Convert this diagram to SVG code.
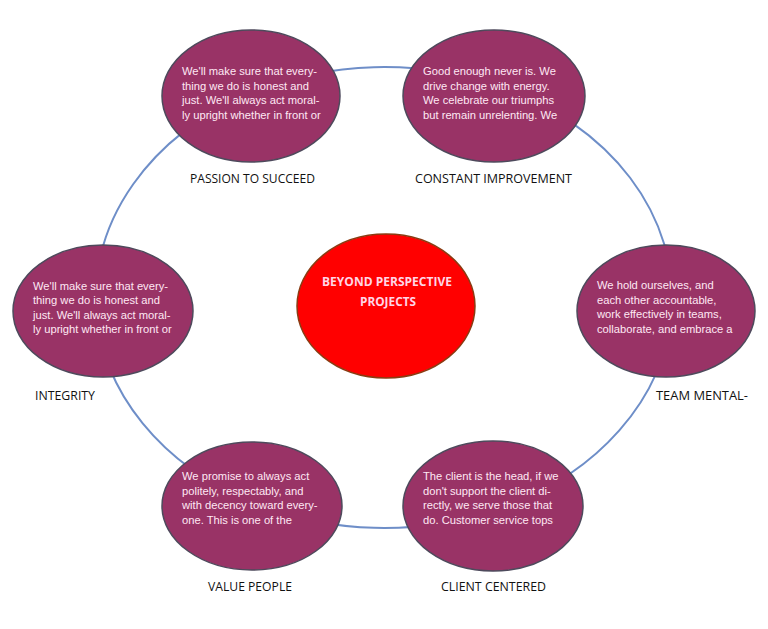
<svg xmlns="http://www.w3.org/2000/svg" width="768" height="629" viewBox="0 0 768 629">
<style>
.conn{fill:none;stroke:#6e8ec8;stroke-width:2}
.node{fill:#993366;stroke:#4e4a5c;stroke-width:1.5}
.core{fill:#ff0000;stroke:#8a3b12;stroke-width:1.5}
.body{font-family:"Liberation Sans",Arial,sans-serif;font-size:11.2px;fill:#ffe8f4}
.lbl{font-family:"Open Sans","Noto Sans",sans-serif;font-size:13.5px;fill:#111}
.ctr{font-family:"Open Sans","Noto Sans",sans-serif;font-size:12px;font-weight:bold;fill:#ffd6e6}
</style>
<rect width="768" height="629" fill="#ffffff"/>
<g id="connectors">
<path class="conn" d="M248.8 94 A288 230.5 0 0 1 501.1 86.9"/>
<path class="conn" d="M501.1 86.9 A288 230.5 0 0 1 671.5 311.2"/>
<path class="conn" d="M671.5 311.2 A288 230.5 0 0 1 496.5 509.7"/>
<path class="conn" d="M496.5 509.7 A288 230.5 0 0 1 253.3 502.9"/>
<path class="conn" d="M253.3 502.9 A288 230.5 0 0 1 96.4 309.6"/>
<path class="conn" d="M96.4 309.6 A288 230.5 0 0 1 248.8 94"/>
</g>
<g id="passion">
<ellipse class="node" cx="251" cy="96" rx="89" ry="66"/>
<text class="body"><tspan x="182" y="75">We'll make sure that every-</tspan><tspan x="182" y="89.5">thing we do is honest and</tspan><tspan x="182" y="104">just. We'll always act moral-</tspan><tspan x="182" y="118.5">ly upright whether in front or</tspan></text>
<text class="lbl" x="252.5" y="183" text-anchor="middle" textLength="125" lengthAdjust="spacingAndGlyphs">PASSION TO SUCCEED</text>
</g>
<g id="constant">
<ellipse class="node" cx="494" cy="96" rx="91" ry="66"/>
<text class="body"><tspan x="423" y="75">Good enough never is. We</tspan><tspan x="423" y="89.5">drive change with energy.</tspan><tspan x="423" y="104">We celebrate our triumphs</tspan><tspan x="423" y="118.5">but remain unrelenting. We</tspan></text>
<text class="lbl" x="493.5" y="183" text-anchor="middle" textLength="157" lengthAdjust="spacingAndGlyphs">CONSTANT IMPROVEMENT</text>
</g>
<g id="team">
<ellipse class="node" cx="666" cy="311" rx="89" ry="66"/>
<text class="body"><tspan x="597" y="289">We hold ourselves, and</tspan><tspan x="597" y="303.5">each other accountable,</tspan><tspan x="597" y="318">work effectively in teams,</tspan><tspan x="597" y="332.5">collaborate, and embrace a</tspan></text>
<text class="lbl" x="702" y="400" text-anchor="middle" textLength="92" lengthAdjust="spacingAndGlyphs">TEAM MENTAL-</text>
</g>
<g id="integrity">
<ellipse class="node" cx="103" cy="311" rx="90" ry="66"/>
<text class="body"><tspan x="33" y="289.5">We'll make sure that every-</tspan><tspan x="33" y="304">thing we do is honest and</tspan><tspan x="33" y="318.5">just. We'll always act moral-</tspan><tspan x="33" y="333">ly upright whether in front or</tspan></text>
<text class="lbl" x="65" y="400" text-anchor="middle" textLength="60" lengthAdjust="spacingAndGlyphs">INTEGRITY</text>
</g>
<g id="value">
<ellipse class="node" cx="252" cy="506" rx="90" ry="64"/>
<text class="body"><tspan x="182" y="480">We promise to always act</tspan><tspan x="182" y="494.5">politely, respectably, and</tspan><tspan x="182" y="509">with decency toward every-</tspan><tspan x="182" y="523.5">one. This is one of the</tspan></text>
<text class="lbl" x="250" y="591" text-anchor="middle" textLength="84" lengthAdjust="spacingAndGlyphs">VALUE PEOPLE</text>
</g>
<g id="client">
<ellipse class="node" cx="493" cy="506" rx="90" ry="65"/>
<text class="body"><tspan x="423" y="480">The client is the head, if we</tspan><tspan x="423" y="494.5">don't support the client di-</tspan><tspan x="423" y="509">rectly, we serve those that</tspan><tspan x="423" y="523.5">do. Customer service tops</tspan></text>
<text class="lbl" x="493.5" y="591" text-anchor="middle" textLength="105" lengthAdjust="spacingAndGlyphs">CLIENT CENTERED</text>
</g>
<g id="center">
<ellipse class="core" cx="386" cy="306" rx="89" ry="72"/>
<text class="ctr" x="387" y="286" text-anchor="middle" textLength="130" lengthAdjust="spacingAndGlyphs">BEYOND PERSPECTIVE</text>
<text class="ctr" x="388" y="306" text-anchor="middle" textLength="56" lengthAdjust="spacingAndGlyphs">PROJECTS</text>
</g>
</svg>
